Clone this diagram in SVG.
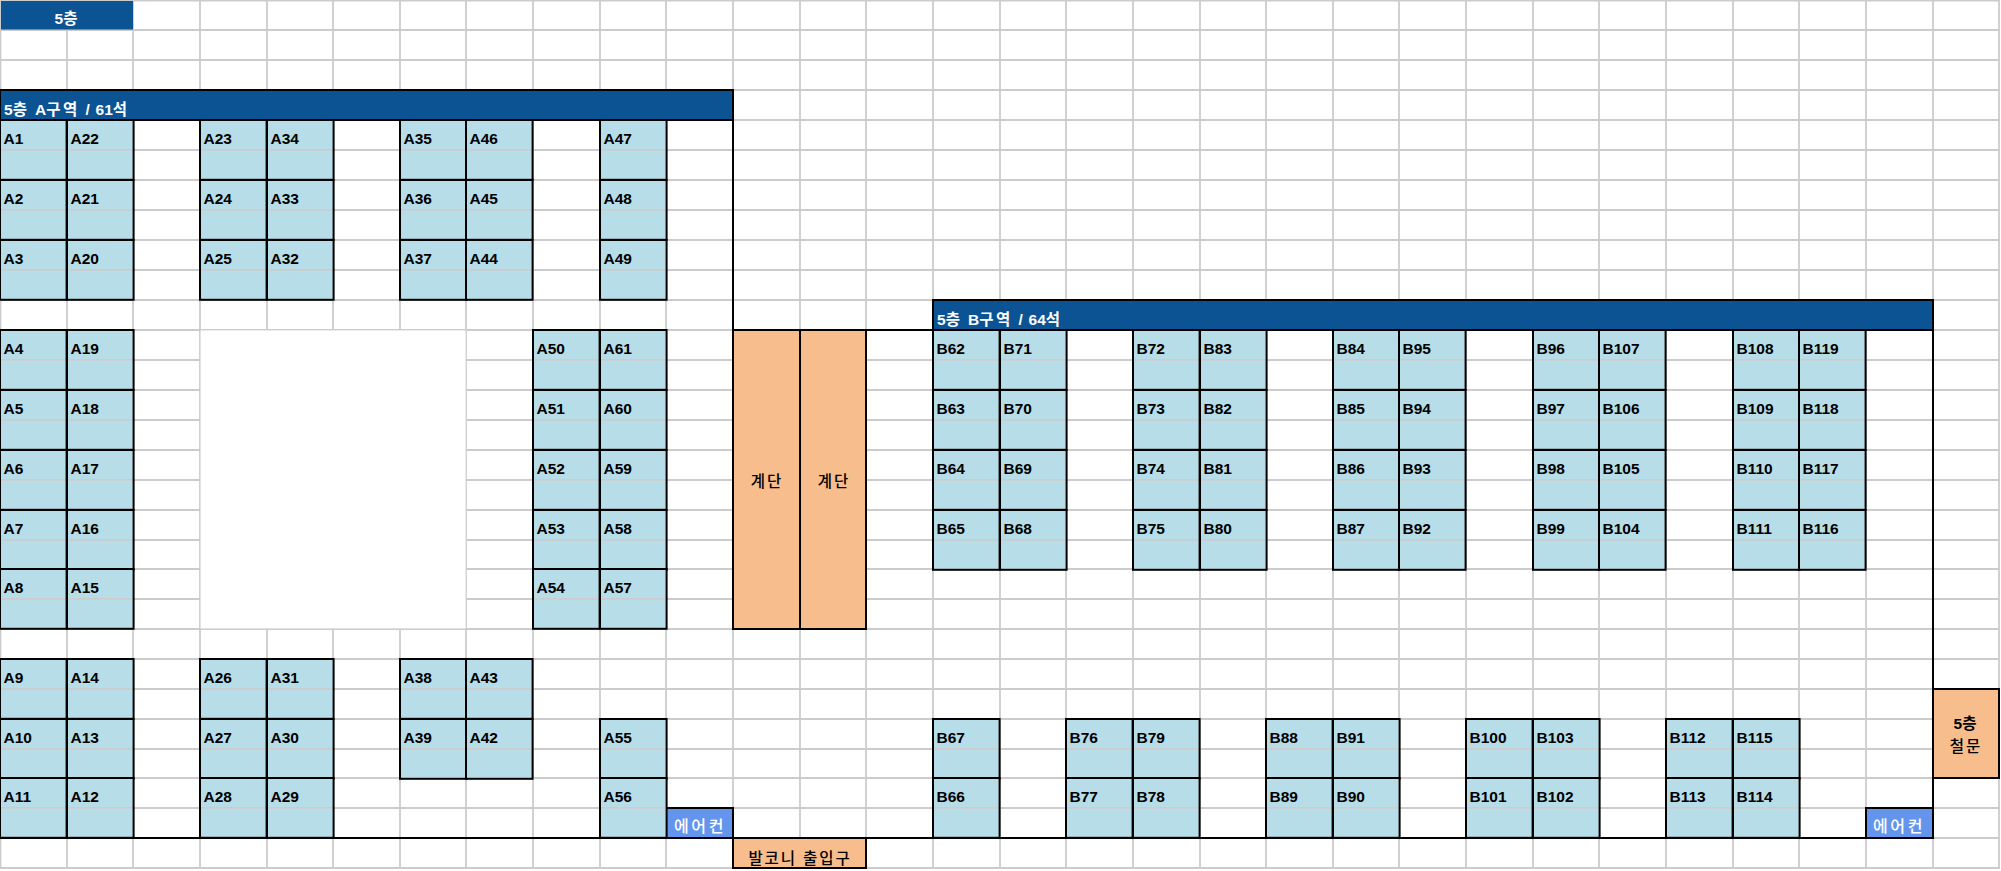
<svg xmlns="http://www.w3.org/2000/svg" width="2001" height="871" viewBox="0 0 2001 871">
<style>
text{font-family:"Liberation Sans","Noto Sans CJK KR",sans-serif;font-size:15.5px;font-weight:700;fill:#000}
.g{stroke:#ccc;stroke-width:1.8;fill:none}
.w{stroke:#000;stroke-width:2;fill:none}
.b{stroke:#000;stroke-width:2}
.hd{fill:#0c5394}
.or{fill:#f8bd8c}
.ac{fill:#6495ed}
.t{fill:#fff}
.h{letter-spacing:1.9px}
.z{word-spacing:1.5px}
.z .h{letter-spacing:2.4px}
.m{font-weight:500}
.a{font-size:16px;letter-spacing:2.6px;font-weight:500}
.c{text-anchor:middle}
</style>
<defs>
<g id="seat"><rect width="66.6" height="59.8" fill="#b7dde8"/><path d="M0 29.9h66.6" class="g"/><rect width="66.6" height="59.8" class="w"/></g>
</defs>
<rect width="2001" height="871" fill="#fff"/>
<g id="grid">
<path class="g" d="M0 0.5H2000M0 30H2000M0 60H2000M0 90H2000M0 120H2000M0 150H2000M0 180H2000M0 210H2000M0 240H2000M0 270H2000M0 300H2000M0 330H2000M0 360H2000M0 390H2000M0 420H2000M0 450H2000M0 480H2000M0 510H2000M0 540H2000M0 569H2000M0 599H2000M0 629H2000M0 659H2000M0 689H2000M0 719H2000M0 749H2000M0 778H2000M0 808H2000M0 838H2000M0 868H2000"/>
<path class="g" d="M0.5 0V868M67 0V868M133 0V868M200 0V868M267 0V868M333 0V868M400 0V868M466 0V868M533 0V868M600 0V868M666 0V868M733 0V868M800 0V868M866 0V868M933 0V868M1000 0V868M1066 0V868M1133 0V868M1200 0V868M1266 0V868M1333 0V868M1399 0V868M1466 0V868M1533 0V868M1599 0V868M1666 0V868M1733 0V868M1799 0V868M1866 0V868M1933 0V868M1999 0V868"/>
<rect x="200.6" y="330.4" width="265" height="298" fill="#fff"/>
</g>
<g id="title"><rect x="1" y="1" width="132" height="28.5" class="hd"/><text x="67" y="24" class="t c">5<tspan class="h">층</tspan></text></g>
<g id="zoneA"><rect x="0" y="90" width="733" height="30" class="hd b"/><text x="4" y="115" class="t z">5<tspan class="h">층</tspan> A<tspan class="h">구역</tspan> / 61<tspan class="h">석</tspan></text></g>
<g id="zoneB"><rect x="933" y="300" width="1000" height="30" class="hd b"/><text x="937" y="325" class="t z">5<tspan class="h">층</tspan> B<tspan class="h">구역</tspan> / 64<tspan class="h">석</tspan></text></g>
<g id="connectors"><path class="w" d="M733 90V629M733 330H933M1933 300V838M0 838H1933"/></g>
<g id="stair1"><rect x="733" y="330" width="67" height="299" class="or b"/><text x="767" y="487" class="c h m">계단</text></g>
<g id="stair2"><rect x="800" y="330" width="66" height="299" class="or b"/><text x="834" y="487" class="c h m">계단</text></g>
<g id="balcony"><rect x="733" y="838" width="133" height="30" class="or b"/><text x="800" y="864" class="c h m">발코니 출입구</text></g>
<g id="door"><rect x="1933" y="689" width="66" height="89" class="or b"/><text x="1966" y="729" class="c">5<tspan class="h">층</tspan></text><text x="1966" y="752" class="c h m">철문</text></g>
<g id="ac1"><rect x="666" y="808" width="67" height="30" class="ac b"/><text x="700" y="832" class="c t a">에어컨</text></g>
<g id="ac2"><rect x="1866" y="808" width="67" height="30" class="ac b"/><text x="1899" y="832" class="c t a">에어컨</text></g>
<g id="seatsA">
<g id="A1"><use href="#seat" x="0" y="120"/><text x="3.5" y="144">A1</text></g>
<g id="A22"><use href="#seat" x="67" y="120"/><text x="70.5" y="144">A22</text></g>
<g id="A2"><use href="#seat" x="0" y="180"/><text x="3.5" y="204">A2</text></g>
<g id="A21"><use href="#seat" x="67" y="180"/><text x="70.5" y="204">A21</text></g>
<g id="A3"><use href="#seat" x="0" y="240"/><text x="3.5" y="264">A3</text></g>
<g id="A20"><use href="#seat" x="67" y="240"/><text x="70.5" y="264">A20</text></g>
<g id="A23"><use href="#seat" x="200" y="120"/><text x="203.5" y="144">A23</text></g>
<g id="A34"><use href="#seat" x="267" y="120"/><text x="270.5" y="144">A34</text></g>
<g id="A24"><use href="#seat" x="200" y="180"/><text x="203.5" y="204">A24</text></g>
<g id="A33"><use href="#seat" x="267" y="180"/><text x="270.5" y="204">A33</text></g>
<g id="A25"><use href="#seat" x="200" y="240"/><text x="203.5" y="264">A25</text></g>
<g id="A32"><use href="#seat" x="267" y="240"/><text x="270.5" y="264">A32</text></g>
<g id="A35"><use href="#seat" x="400" y="120"/><text x="403.5" y="144">A35</text></g>
<g id="A46"><use href="#seat" x="466" y="120"/><text x="469.5" y="144">A46</text></g>
<g id="A36"><use href="#seat" x="400" y="180"/><text x="403.5" y="204">A36</text></g>
<g id="A45"><use href="#seat" x="466" y="180"/><text x="469.5" y="204">A45</text></g>
<g id="A37"><use href="#seat" x="400" y="240"/><text x="403.5" y="264">A37</text></g>
<g id="A44"><use href="#seat" x="466" y="240"/><text x="469.5" y="264">A44</text></g>
<g id="A47"><use href="#seat" x="600" y="120"/><text x="603.5" y="144">A47</text></g>
<g id="A48"><use href="#seat" x="600" y="180"/><text x="603.5" y="204">A48</text></g>
<g id="A49"><use href="#seat" x="600" y="240"/><text x="603.5" y="264">A49</text></g>
<g id="A4"><use href="#seat" x="0" y="330"/><text x="3.5" y="354">A4</text></g>
<g id="A19"><use href="#seat" x="67" y="330"/><text x="70.5" y="354">A19</text></g>
<g id="A5"><use href="#seat" x="0" y="390"/><text x="3.5" y="414">A5</text></g>
<g id="A18"><use href="#seat" x="67" y="390"/><text x="70.5" y="414">A18</text></g>
<g id="A6"><use href="#seat" x="0" y="450"/><text x="3.5" y="474">A6</text></g>
<g id="A17"><use href="#seat" x="67" y="450"/><text x="70.5" y="474">A17</text></g>
<g id="A7"><use href="#seat" x="0" y="510"/><text x="3.5" y="534">A7</text></g>
<g id="A16"><use href="#seat" x="67" y="510"/><text x="70.5" y="534">A16</text></g>
<g id="A8"><use href="#seat" x="0" y="569"/><text x="3.5" y="593">A8</text></g>
<g id="A15"><use href="#seat" x="67" y="569"/><text x="70.5" y="593">A15</text></g>
<g id="A50"><use href="#seat" x="533" y="330"/><text x="536.5" y="354">A50</text></g>
<g id="A61"><use href="#seat" x="600" y="330"/><text x="603.5" y="354">A61</text></g>
<g id="A51"><use href="#seat" x="533" y="390"/><text x="536.5" y="414">A51</text></g>
<g id="A60"><use href="#seat" x="600" y="390"/><text x="603.5" y="414">A60</text></g>
<g id="A52"><use href="#seat" x="533" y="450"/><text x="536.5" y="474">A52</text></g>
<g id="A59"><use href="#seat" x="600" y="450"/><text x="603.5" y="474">A59</text></g>
<g id="A53"><use href="#seat" x="533" y="510"/><text x="536.5" y="534">A53</text></g>
<g id="A58"><use href="#seat" x="600" y="510"/><text x="603.5" y="534">A58</text></g>
<g id="A54"><use href="#seat" x="533" y="569"/><text x="536.5" y="593">A54</text></g>
<g id="A57"><use href="#seat" x="600" y="569"/><text x="603.5" y="593">A57</text></g>
<g id="A9"><use href="#seat" x="0" y="659"/><text x="3.5" y="683">A9</text></g>
<g id="A14"><use href="#seat" x="67" y="659"/><text x="70.5" y="683">A14</text></g>
<g id="A10"><use href="#seat" x="0" y="719"/><text x="3.5" y="743">A10</text></g>
<g id="A13"><use href="#seat" x="67" y="719"/><text x="70.5" y="743">A13</text></g>
<g id="A11"><use href="#seat" x="0" y="778"/><text x="3.5" y="802">A11</text></g>
<g id="A12"><use href="#seat" x="67" y="778"/><text x="70.5" y="802">A12</text></g>
<g id="A26"><use href="#seat" x="200" y="659"/><text x="203.5" y="683">A26</text></g>
<g id="A31"><use href="#seat" x="267" y="659"/><text x="270.5" y="683">A31</text></g>
<g id="A27"><use href="#seat" x="200" y="719"/><text x="203.5" y="743">A27</text></g>
<g id="A30"><use href="#seat" x="267" y="719"/><text x="270.5" y="743">A30</text></g>
<g id="A28"><use href="#seat" x="200" y="778"/><text x="203.5" y="802">A28</text></g>
<g id="A29"><use href="#seat" x="267" y="778"/><text x="270.5" y="802">A29</text></g>
<g id="A38"><use href="#seat" x="400" y="659"/><text x="403.5" y="683">A38</text></g>
<g id="A43"><use href="#seat" x="466" y="659"/><text x="469.5" y="683">A43</text></g>
<g id="A39"><use href="#seat" x="400" y="719"/><text x="403.5" y="743">A39</text></g>
<g id="A42"><use href="#seat" x="466" y="719"/><text x="469.5" y="743">A42</text></g>
<g id="A55"><use href="#seat" x="600" y="719"/><text x="603.5" y="743">A55</text></g>
<g id="A56"><use href="#seat" x="600" y="778"/><text x="603.5" y="802">A56</text></g>
</g>
<g id="seatsB">
<g id="B62"><use href="#seat" x="933" y="330"/><text x="936.5" y="354">B62</text></g>
<g id="B71"><use href="#seat" x="1000" y="330"/><text x="1003.5" y="354">B71</text></g>
<g id="B63"><use href="#seat" x="933" y="390"/><text x="936.5" y="414">B63</text></g>
<g id="B70"><use href="#seat" x="1000" y="390"/><text x="1003.5" y="414">B70</text></g>
<g id="B64"><use href="#seat" x="933" y="450"/><text x="936.5" y="474">B64</text></g>
<g id="B69"><use href="#seat" x="1000" y="450"/><text x="1003.5" y="474">B69</text></g>
<g id="B65"><use href="#seat" x="933" y="510"/><text x="936.5" y="534">B65</text></g>
<g id="B68"><use href="#seat" x="1000" y="510"/><text x="1003.5" y="534">B68</text></g>
<g id="B72"><use href="#seat" x="1133" y="330"/><text x="1136.5" y="354">B72</text></g>
<g id="B83"><use href="#seat" x="1200" y="330"/><text x="1203.5" y="354">B83</text></g>
<g id="B73"><use href="#seat" x="1133" y="390"/><text x="1136.5" y="414">B73</text></g>
<g id="B82"><use href="#seat" x="1200" y="390"/><text x="1203.5" y="414">B82</text></g>
<g id="B74"><use href="#seat" x="1133" y="450"/><text x="1136.5" y="474">B74</text></g>
<g id="B81"><use href="#seat" x="1200" y="450"/><text x="1203.5" y="474">B81</text></g>
<g id="B75"><use href="#seat" x="1133" y="510"/><text x="1136.5" y="534">B75</text></g>
<g id="B80"><use href="#seat" x="1200" y="510"/><text x="1203.5" y="534">B80</text></g>
<g id="B84"><use href="#seat" x="1333" y="330"/><text x="1336.5" y="354">B84</text></g>
<g id="B95"><use href="#seat" x="1399" y="330"/><text x="1402.5" y="354">B95</text></g>
<g id="B85"><use href="#seat" x="1333" y="390"/><text x="1336.5" y="414">B85</text></g>
<g id="B94"><use href="#seat" x="1399" y="390"/><text x="1402.5" y="414">B94</text></g>
<g id="B86"><use href="#seat" x="1333" y="450"/><text x="1336.5" y="474">B86</text></g>
<g id="B93"><use href="#seat" x="1399" y="450"/><text x="1402.5" y="474">B93</text></g>
<g id="B87"><use href="#seat" x="1333" y="510"/><text x="1336.5" y="534">B87</text></g>
<g id="B92"><use href="#seat" x="1399" y="510"/><text x="1402.5" y="534">B92</text></g>
<g id="B96"><use href="#seat" x="1533" y="330"/><text x="1536.5" y="354">B96</text></g>
<g id="B107"><use href="#seat" x="1599" y="330"/><text x="1602.5" y="354">B107</text></g>
<g id="B97"><use href="#seat" x="1533" y="390"/><text x="1536.5" y="414">B97</text></g>
<g id="B106"><use href="#seat" x="1599" y="390"/><text x="1602.5" y="414">B106</text></g>
<g id="B98"><use href="#seat" x="1533" y="450"/><text x="1536.5" y="474">B98</text></g>
<g id="B105"><use href="#seat" x="1599" y="450"/><text x="1602.5" y="474">B105</text></g>
<g id="B99"><use href="#seat" x="1533" y="510"/><text x="1536.5" y="534">B99</text></g>
<g id="B104"><use href="#seat" x="1599" y="510"/><text x="1602.5" y="534">B104</text></g>
<g id="B108"><use href="#seat" x="1733" y="330"/><text x="1736.5" y="354">B108</text></g>
<g id="B119"><use href="#seat" x="1799" y="330"/><text x="1802.5" y="354">B119</text></g>
<g id="B109"><use href="#seat" x="1733" y="390"/><text x="1736.5" y="414">B109</text></g>
<g id="B118"><use href="#seat" x="1799" y="390"/><text x="1802.5" y="414">B118</text></g>
<g id="B110"><use href="#seat" x="1733" y="450"/><text x="1736.5" y="474">B110</text></g>
<g id="B117"><use href="#seat" x="1799" y="450"/><text x="1802.5" y="474">B117</text></g>
<g id="B111"><use href="#seat" x="1733" y="510"/><text x="1736.5" y="534">B111</text></g>
<g id="B116"><use href="#seat" x="1799" y="510"/><text x="1802.5" y="534">B116</text></g>
<g id="B67"><use href="#seat" x="933" y="719"/><text x="936.5" y="743">B67</text></g>
<g id="B66"><use href="#seat" x="933" y="778"/><text x="936.5" y="802">B66</text></g>
<g id="B76"><use href="#seat" x="1066" y="719"/><text x="1069.5" y="743">B76</text></g>
<g id="B79"><use href="#seat" x="1133" y="719"/><text x="1136.5" y="743">B79</text></g>
<g id="B77"><use href="#seat" x="1066" y="778"/><text x="1069.5" y="802">B77</text></g>
<g id="B78"><use href="#seat" x="1133" y="778"/><text x="1136.5" y="802">B78</text></g>
<g id="B88"><use href="#seat" x="1266" y="719"/><text x="1269.5" y="743">B88</text></g>
<g id="B91"><use href="#seat" x="1333" y="719"/><text x="1336.5" y="743">B91</text></g>
<g id="B89"><use href="#seat" x="1266" y="778"/><text x="1269.5" y="802">B89</text></g>
<g id="B90"><use href="#seat" x="1333" y="778"/><text x="1336.5" y="802">B90</text></g>
<g id="B100"><use href="#seat" x="1466" y="719"/><text x="1469.5" y="743">B100</text></g>
<g id="B103"><use href="#seat" x="1533" y="719"/><text x="1536.5" y="743">B103</text></g>
<g id="B101"><use href="#seat" x="1466" y="778"/><text x="1469.5" y="802">B101</text></g>
<g id="B102"><use href="#seat" x="1533" y="778"/><text x="1536.5" y="802">B102</text></g>
<g id="B112"><use href="#seat" x="1666" y="719"/><text x="1669.5" y="743">B112</text></g>
<g id="B115"><use href="#seat" x="1733" y="719"/><text x="1736.5" y="743">B115</text></g>
<g id="B113"><use href="#seat" x="1666" y="778"/><text x="1669.5" y="802">B113</text></g>
<g id="B114"><use href="#seat" x="1733" y="778"/><text x="1736.5" y="802">B114</text></g>
</g>
</svg>
